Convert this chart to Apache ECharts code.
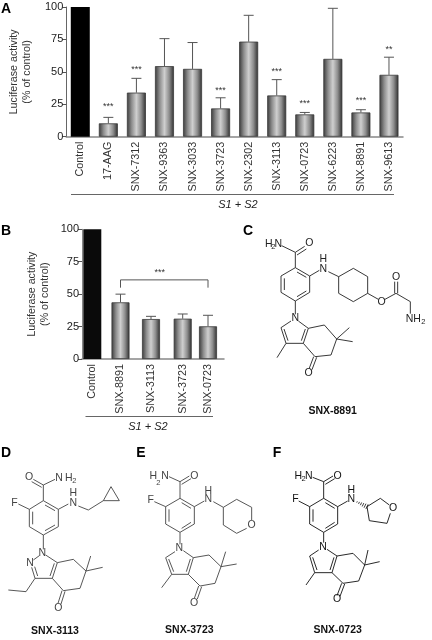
<!DOCTYPE html>
<html>
<head>
<meta charset="utf-8">
<style>
  html, body { margin: 0; padding: 0; background: #fff; }
  #main { width: 432px; height: 640px; }
</style>
<script src="https://cdn.jsdelivr.net/npm/echarts@6/dist/echarts.min.js"></script>
</head>
<body>
<div id="main"></div>
<script>
// panel A
const catsA = ['Control', '17-AAG', 'SNX-7312', 'SNX-9363', 'SNX-3033', 'SNX-3723', 'SNX-2302', 'SNX-3113', 'SNX-0723', 'SNX-6223', 'SNX-8891', 'SNX-9613'];
const valsA = [100, 10.3, 34, 54.4, 52.3, 21.8, 73.3, 31.8, 17.2, 60, 18.7, 47.7];
const errTopA = [null, 14.9, 45, 75.6, 72.6, 30, 93.6, 44, 18.7, 99, 20.8, 61.3];
const starsA = ['', '***', '***', '', '', '***', '', '***', '***', '', '***', '**'];
const starYA = [null, 24.6, 53, null, null, 37, null, 51.5, 27, null, 29, 68.7];

// panel B, the bars are not evenly spaced in the original
const catsB = ['Control', 'SNX-8891', 'SNX-3113', 'SNX-3723', 'SNX-0723'];
const posB = [10.3, 38.5, 69, 100.7, 126];
const valsB = [100, 43.7, 30.8, 31.1, 25.2];
const errTopB = [null, 50, 32.9, 34.7, 33.7];
const bracketB = [38.5, 126, 55, 61];
const bracketStarB = [77.7, 68, '***'];

const yTicks = [0, 25, 50, 75, 100];
const FONT = '"Liberation Sans", Arial, sans-serif';

// structures, in 3x crop coordinates relative to the origin of each panel
const mols = [
  { // C, SNX-8891
    ox: 216, oy: 215, color: '#222',
    lines: [
      [197,92, 238,112, 238,158], [238,112, 266,94], [243,120, 271,102],
      [238,158, 281,183, 281,232, 238,258, 195,232, 195,183, 238,158],
      [205,190, 205,225], [243,171, 271,187], [243,245, 271,228],
      [281,183, 310,166], [337,170, 368,185, 412,160, 455,185, 455,235, 412,260, 368,235, 368,185],
      [455,235, 487,253], [507,253, 540,235, 583,260, 583,296], [536,235, 536,200], [545,235, 545,200],
      [238,258, 238,298],
      [225,318, 195,338, 210,385, 262,385, 277,340, 247,318],
      [204,342, 216,377], [256,377, 268,342],
      [210,385, 183,428], [277,340, 325,330, 362,372, 345,420, 297,425, 262,385],
      [362,372, 400,338], [362,372, 410,380], [293,425, 279,462], [302,427, 288,464]
    ],
    atoms: [['H', 158,87], ['N', 187,87], ['O', 280,85], ['N', 322,162], ['H', 322,133], ['O', 497,260], ['O', 540,185],
      ['NH', 592,313], ['N', 238,310], ['O', 278,475]],
    subs: [['2', 172,95], ['2', 622,322]],
    label: ['SNX-8891', 350,588]
  },
  { // D, SNX-3113
    ox: 0, oy: 430, color: '#444',
    lines: [
      [165,148, 130,165, 130,212], [130,165, 100,148], [125,172, 95,155],
      [130,212, 175,238, 175,290, 130,315, 88,290, 88,238, 130,212],
      [98,245, 98,283], [135,225, 165,242], [135,302, 165,285],
      [88,238, 55,222], [175,238, 205,222], [235,228, 265,240, 310,212, 333,170, 358,212, 310,212],
      [130,315, 130,358],
      [118,377, 100,390], [95,412, 105,445, 157,445, 172,398, 137,375], [104,410, 113,438], [150,438, 163,400],
      [105,445, 78,485, 25,480], [172,398, 220,388, 258,423, 240,475, 190,482, 157,445],
      [258,423, 272,378], [258,423, 308,412], [186,482, 174,520], [195,484, 183,522]
    ],
    atoms: [['O', 87,142], ['N', 177,143], ['H', 206,143], ['F', 43,218], ['N', 220,220], ['H', 220,190], ['N', 127,368], ['N', 90,400], ['O', 175,533]],
    subs: [['2', 223,153]],
    label: ['SNX-3113', 165,603]
  },
  { // E, SNX-3723
    ox: 145, oy: 430, color: '#444',
    lines: [
      [72,140, 105,155, 105,205], [105,155, 133,138], [110,163, 138,146],
      [105,205, 148,230, 148,282, 105,307, 62,282, 62,230, 105,205],
      [72,238, 72,275], [110,218, 138,235], [110,295, 138,277],
      [62,230, 28,215], [148,230, 178,213], [205,215, 235,232, 275,208, 320,232, 320,270],
      [305,295, 275,310, 235,285, 235,232],
      [105,307, 105,343],
      [90,365, 62,383, 80,433, 130,433, 145,383, 115,362], [71,387, 86,425], [124,425, 136,387],
      [80,433, 50,473], [145,383, 192,375, 228,410, 210,460, 165,468, 130,433],
      [228,410, 242,365], [228,410, 275,402], [161,468, 148,505], [170,470, 157,507]
    ],
    atoms: [['H', 25,137], ['N', 60,137], ['O', 148,137], ['F', 17,210], ['N', 190,208], ['H', 190,183], ['O', 320,285], ['N', 103,355], ['O', 147,518]],
    subs: [['2', 40,158]],
    label: ['SNX-3723', 133,601]
  },
  { // F, SNX-0723
    ox: 282, oy: 430, color: '#111',
    lines: [
      [92,142, 125,155, 125,205], [125,155, 153,138], [130,163, 158,146],
      [125,205, 167,230, 167,282, 125,307, 83,282, 83,230, 125,205],
      [93,238, 93,275], [130,218, 158,235], [130,295, 158,277],
      [83,230, 50,213], [167,230, 197,213],
      [255,230, 295,205, 322,225], [325,250, 315,280, 262,272, 255,230],
      [125,307, 125,338],
      [110,360, 83,378, 98,428, 150,428, 165,378, 135,358], [92,382, 105,420], [144,420, 156,382],
      [98,428, 72,465], [165,378, 213,370, 248,405, 230,453, 183,460, 150,428],
      [248,405, 258,360], [248,405, 293,395], [179,460, 165,497], [188,462, 174,499]
    ],
    hash: [219,213, 255,230],
    atoms: [['H', 49,137], ['N', 80,137], ['O', 167,137], ['F', 40,208], ['N', 208,207], ['H', 208,180], ['O', 333,235], ['N', 123,350], ['O', 165,507]],
    subs: [['2', 65,147]],
    label: ['SNX-0723', 167,600]
  }
];

const panelLetters = [['A', 6,9], ['B', 6,231], ['C', 248,231], ['D', 6,453], ['E', 141,453], ['F', 277,453]];

function txt(text, x, y, font, fill, rotation) {
  return { type: 'text', x: x, y: y, rotation: rotation || 0, silent: true,
    style: { text: text, font: font, fill: fill, align: 'center', verticalAlign: 'middle' } };
}

function ruleLine(x1, y1, x2, y2, color, w) {
  return { type: 'line', silent: true, shape: { x1: x1, y1: y1, x2: x2, y2: y2 }, style: { stroke: color, lineWidth: w } };
}

const graphics = [];
panelLetters.forEach(p => graphics.push(txt(p[0], p[1], p[2], 'bold 14px ' + FONT, '#000')));
graphics.push(ruleLine(71, 194.5, 394, 194.5, '#666', 1));
graphics.push(txt('S1 + S2', 238, 205, 'italic 11px ' + FONT, '#222'));
graphics.push(ruleLine(85.5, 416.5, 213, 416.5, '#666', 1));
graphics.push(txt('S1 + S2', 148, 427, 'italic 11px ' + FONT, '#222'));

mols.forEach(m => {
  const px = (x) => m.ox + x / 3;
  const py = (y) => m.oy + y / 3;
  m.lines.forEach(l => {
    const pts = [];
    for (let i = 0; i < l.length; i += 2) pts.push([px(l[i]), py(l[i + 1])]);
    graphics.push({ type: 'polyline', silent: true, shape: { points: pts }, style: { stroke: m.color, fill: null, lineWidth: 0.9 } });
  });
  if (m.hash) {
    // hashed stereo bond, gets wider towards the ring
    const [a, b, c, d] = m.hash;
    for (let i = 1; i <= 6; i++) {
      const t = i / 6, cx = a + (c - a) * t, cy = b + (d - b) * t, h = 1 + 7 * t;
      graphics.push(ruleLine(px(cx + h * 0.43), py(cy - h * 0.9), px(cx - h * 0.43), py(cy + h * 0.9), m.color, 0.8));
    }
  }
  m.atoms.forEach(a => graphics.push(txt(a[0], px(a[1]), py(a[2]), '10.5px ' + FONT, m.color)));
  m.subs.forEach(a => graphics.push(txt(a[0], px(a[1]), py(a[2]), '7.5px ' + FONT, m.color)));
  graphics.push(txt(m.label[0], px(m.label[1]), py(m.label[2]), 'bold 10.5px ' + FONT, '#111'));
});

const barFill = {
  type: 'linear', x: 0, y: 0, x2: 1, y2: 0,
  colorStops: [
    { offset: 0, color: '#3a3a3a' },
    { offset: 0.25, color: '#8e8e8e' },
    { offset: 0.5, color: '#cfcfcf' },
    { offset: 0.75, color: '#8e8e8e' },
    { offset: 1, color: '#2e2e2e' }
  ]
};

function errorBars(params, api) {
  const base = api.coord([api.value(0), api.value(1)]);
  const top = api.coord([api.value(0), api.value(2)]);
  const st = { stroke: '#555', lineWidth: 1 };
  return { type: 'group', silent: true, children: [
    { type: 'line', shape: { x1: base[0], y1: base[1], x2: top[0], y2: top[1] }, style: st },
    { type: 'line', shape: { x1: top[0] - 5, y1: top[1], x2: top[0] + 5, y2: top[1] }, style: st }
  ] };
}

function starMark(params, api) {
  const p = api.coord([api.value(0), api.value(1)]);
  return { type: 'text', x: p[0], y: p[1] + 1.5, silent: true,
    style: { text: catStars[params.seriesName][params.dataIndex], font: '9px ' + FONT, fill: '#333', align: 'center', verticalAlign: 'middle' } };
}

const idxA = catsA.map((c, i) => i).filter(i => errTopA[i] !== null);
const idxStarA = catsA.map((c, i) => i).filter(i => starYA[i] !== null);
const idxB = catsB.map((c, i) => i).filter(i => errTopB[i] !== null);
const catStars = { starsA: idxStarA.map(i => starsA[i]), starsB: [bracketStarB[2]] };

function yAxisOpt(idx) {
  return {
    gridIndex: idx, type: 'value', min: 0, max: 100, interval: 25,
    name: 'Luciferase activity\n(% of control)', nameLocation: 'middle', nameGap: idx ? 30 : 27, nameRotate: 90,
    nameTextStyle: { fontSize: 10.7, color: '#333', lineHeight: 13, fontFamily: FONT },
    axisLine: { show: true, lineStyle: { color: idx ? '#888' : '#666', width: 1 } },
    axisTick: { show: true, length: 4, lineStyle: { color: '#555' } },
    axisLabel: { color: '#222', fontSize: 11, margin: 3, fontFamily: FONT, customValues: yTicks },
    splitLine: { show: false }
  };
}

const chart = echarts.init(document.getElementById('main'), null, { renderer: 'canvas' });
chart.setOption({
  animation: false,
  backgroundColor: '#fff',
  textStyle: { fontFamily: FONT },
  grid: [
    { left: 63, top: 7, width: 340, height: 129.7 },
    { left: 82, top: 229.3, width: 142, height: 129.7 }
  ],
  xAxis: [
    {
      gridIndex: 0, type: 'category', data: catsA,
      axisLine: { lineStyle: { color: '#888', width: 1.5 } },
      axisTick: { show: false },
      axisLabel: { rotate: 90, interval: 0, color: '#333', fontSize: 10.8, margin: 5, fontFamily: FONT }
    },
    {
      gridIndex: 1, type: 'value', min: 0, max: 142,
      axisLine: { lineStyle: { color: '#888', width: 1.5 } },
      axisTick: { show: false },
      splitLine: { show: false },
      axisLabel: {
        rotate: 90, color: '#333', fontSize: 10.8, margin: 5, fontFamily: FONT, customValues: posB,
        formatter: (v) => catsB[posB.indexOf(v)]
      }
    }
  ],
  yAxis: [yAxisOpt(0), yAxisOpt(1)],
  series: [
    {
      type: 'bar', xAxisIndex: 0, yAxisIndex: 0, barWidth: 19, silent: true,
      data: valsA.map((v, i) => ({
        value: v,
        itemStyle: i === 0 ? { color: '#000' } : { color: barFill, borderColor: '#3a3a3a', borderWidth: 0.8 }
      }))
    },
    {
      type: 'custom', xAxisIndex: 0, yAxisIndex: 0, renderItem: errorBars, silent: true,
      data: idxA.map(i => [i, valsA[i], errTopA[i]])
    },
    {
      type: 'custom', name: 'starsA', xAxisIndex: 0, yAxisIndex: 0, renderItem: starMark, silent: true,
      data: idxStarA.map(i => [i, starYA[i]])
    },
    {
      type: 'bar', xAxisIndex: 1, yAxisIndex: 1, barWidth: 18, silent: true,
      data: valsB.map((v, i) => ({
        value: [posB[i], v],
        itemStyle: i === 0 ? { color: '#0a0a0a' } : { color: barFill, borderColor: '#3a3a3a', borderWidth: 0.8 }
      }))
    },
    {
      type: 'custom', xAxisIndex: 1, yAxisIndex: 1, renderItem: errorBars, silent: true,
      data: idxB.map(i => [posB[i], valsB[i], errTopB[i]])
    },
    {
      type: 'custom', xAxisIndex: 1, yAxisIndex: 1, silent: true,
      renderItem: (params, api) => {
        const pts = [[api.value(0), api.value(2)], [api.value(0), api.value(3)], [api.value(1), api.value(3)], [api.value(1), api.value(2)]].map(p => api.coord(p));
        return { type: 'polyline', silent: true, shape: { points: pts }, style: { stroke: '#555', fill: null, lineWidth: 1 } };
      },
      data: [bracketB]
    },
    {
      type: 'custom', name: 'starsB', xAxisIndex: 1, yAxisIndex: 1, renderItem: starMark, silent: true,
      data: [[bracketStarB[0], bracketStarB[1]]]
    }
  ],
  graphic: graphics
});
</script>
</body>
</html>
